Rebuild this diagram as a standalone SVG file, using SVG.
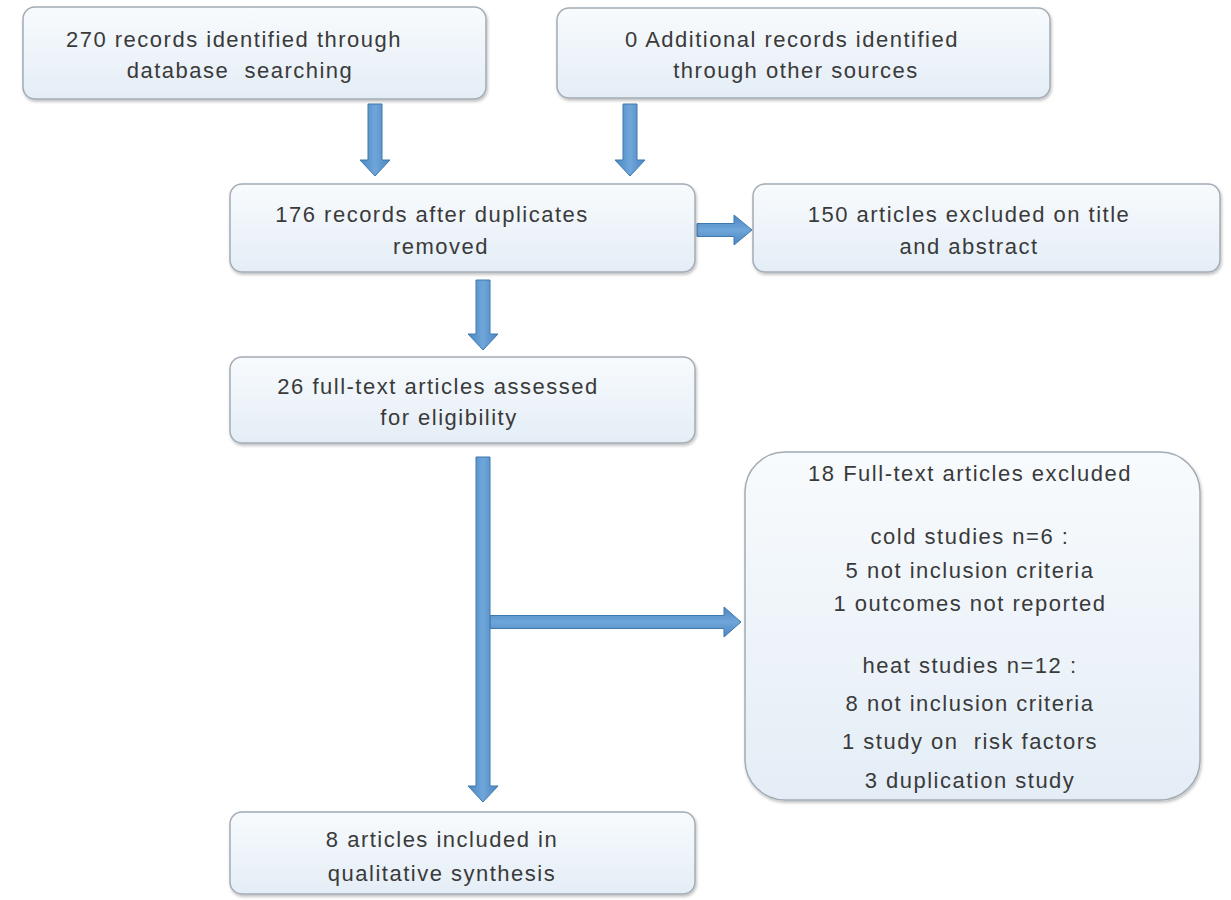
<svg xmlns="http://www.w3.org/2000/svg" width="1231" height="900" viewBox="0 0 1231 900">
<defs>
<linearGradient id="boxg" x1="0" y1="0" x2="0" y2="1">
<stop offset="0" stop-color="#f8fbfd"/>
<stop offset="1" stop-color="#e4edf6"/>
</linearGradient>
<linearGradient id="arrv" x1="0" y1="0" x2="1" y2="0">
<stop offset="0" stop-color="#4a86c0"/>
<stop offset="0.5" stop-color="#6fa6da"/>
<stop offset="1" stop-color="#4a86c0"/>
</linearGradient>
<linearGradient id="arrh" x1="0" y1="0" x2="0" y2="1">
<stop offset="0" stop-color="#4a86c0"/>
<stop offset="0.5" stop-color="#6fa6da"/>
<stop offset="1" stop-color="#4a86c0"/>
</linearGradient>
<filter id="sh" x="-5%" y="-5%" width="110%" height="115%">
<feDropShadow dx="1" dy="2" stdDeviation="1.5" flood-color="#000" flood-opacity="0.25"/>
</filter>
</defs>
<style>
.box{fill:url(#boxg);stroke:#a3acb5;stroke-width:1.5;filter:url(#sh)}
.av{fill:url(#arrv);stroke:#3f78ad;stroke-width:1}
.ah{fill:url(#arrh);stroke:#3f78ad;stroke-width:1}
text{font-family:"Liberation Sans",Arial,sans-serif;font-size:22px;letter-spacing:1.5px;fill:#3a3a3a;text-anchor:middle;white-space:pre}
</style>
<rect width="1231" height="900" fill="#ffffff"/>
<g id="connectors">
<polygon class="av" points="368,104 382,104 382,160 390,160 375,176 360,160 368,160"/>
<polygon class="av" points="623,104 637,104 637,160 645,160 630,176 615,160 623,160"/>
<polygon class="ah" points="697,223.5 734,223.5 734,215 752,230 734,245 734,236.5 697,236.5"/>
<polygon class="av" points="476,280 490,280 490,334 498,334 483,350 468,334 476,334"/>
<polygon class="ah" points="490,615.5 724,615.5 724,607 741,622 724,637 724,628.5 490,628.5"/>
<polygon class="av" points="476,457 490,457 490,786 498,786 483,802 468,786 476,786"/>
</g>
<g id="n1">
<rect class="box" x="23" y="7" width="463" height="92" rx="12"/>
<text x="234" y="47">270 records identified through</text>
<text x="240" y="78" xml:space="preserve">database  searching</text>
</g>
<g id="n2">
<rect class="box" x="557" y="8" width="493" height="90" rx="12"/>
<text x="792" y="47">0 Additional records identified</text>
<text x="796" y="78">through other sources</text>
</g>
<g id="n3">
<rect class="box" x="230" y="184" width="465" height="88" rx="12"/>
<text x="432" y="222">176 records after duplicates</text>
<text x="441" y="254">removed</text>
</g>
<g id="n4">
<rect class="box" x="753" y="184" width="467" height="88" rx="12"/>
<text x="969" y="222">150 articles excluded on title</text>
<text x="969" y="254">and abstract</text>
</g>
<g id="n5">
<rect class="box" x="230" y="357" width="465" height="86" rx="12"/>
<text x="438" y="394">26 full-text articles assessed</text>
<text x="449" y="425">for eligibility</text>
</g>
<g id="n6">
<rect class="box" x="745" y="452" width="455" height="348" rx="40"/>
<text x="970" y="481">18 Full-text articles excluded</text>
<text x="970" y="544">cold studies n=6 :</text>
<text x="970" y="578">5 not inclusion criteria</text>
<text x="970" y="611">1 outcomes not reported</text>
<text x="970" y="673">heat studies n=12 :</text>
<text x="970" y="711">8 not inclusion criteria</text>
<text x="970" y="749" xml:space="preserve">1 study on  risk factors</text>
<text x="970" y="788">3 duplication study</text>
</g>
<g id="n7">
<rect class="box" x="230" y="812" width="465" height="82" rx="12"/>
<text x="442" y="847">8 articles included in</text>
<text x="442" y="881">qualitative synthesis</text>
</g>
</svg>
